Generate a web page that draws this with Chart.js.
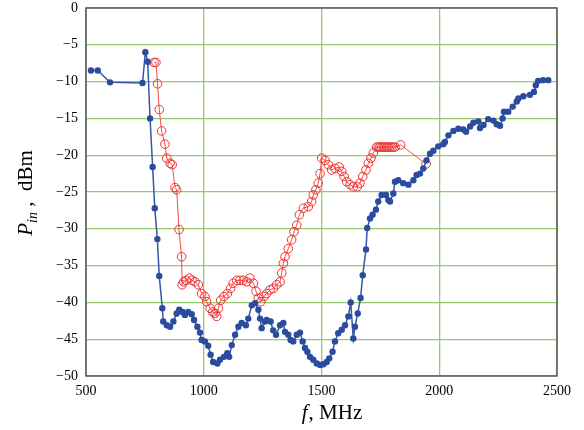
<!DOCTYPE html>
<html>
<head>
<meta charset="utf-8">
<script src="https://cdn.jsdelivr.net/npm/chart.js@4/dist/chart.umd.min.js"></script>
<style>
  html, body { margin: 0; padding: 0; background: #fff; }
  #wrap { width: 584px; height: 430px; }
</style>
</head>
<body>
<div id="wrap"><canvas id="pinChart" width="584" height="430"></canvas></div>
<script>
// ---------- data ----------

// blue trace: frequency (MHz) / input power (dBm)
const blueFreq = [521, 550, 602, 740, 752, 762, 772, 783, 792, 803, 811, 824, 828, 843, 857, 871, 885, 896, 910, 920,
    934, 949, 959, 973, 984, 991, 1005, 1019, 1029, 1040, 1058, 1069, 1086, 1100, 1108, 1119, 1133, 1147, 1161, 1179,
    1189, 1204, 1218, 1232, 1239, 1246, 1260, 1267, 1284, 1295, 1307, 1324, 1338, 1345, 1359, 1369, 1380, 1395, 1409, 1420,
    1430, 1440, 1451, 1465, 1480, 1494, 1508, 1522, 1533, 1547, 1557, 1571, 1586, 1600, 1614, 1624, 1635, 1642, 1654, 1666,
    1675, 1689, 1694, 1706, 1717, 1731, 1741, 1755, 1774, 1784, 1791, 1805, 1812, 1826, 1847, 1869, 1890, 1904, 1918, 1932,
    1946, 1961, 1975, 1996, 2017, 2024, 2039, 2060, 2081, 2102, 2114, 2131, 2145, 2166, 2173, 2188, 2208, 2230, 2244, 2258,
    2269, 2275, 2293, 2312, 2329, 2336, 2357, 2385, 2402, 2410, 2420, 2441, 2463];
const bluePower = [-8.5, -8.5, -10.1, -10.2, -6.0, -7.3, -15.0, -21.6, -27.2, -31.4, -36.4, -40.8, -42.6, -43.1, -43.3, -42.6, -41.5, -41.0, -41.3, -41.7,
    -41.3, -41.6, -42.4, -43.3, -44.1, -45.1, -45.3, -45.9, -47.1, -48.1, -48.3, -47.8, -47.4, -46.9, -47.4, -45.8, -44.4, -43.3, -42.8, -43.1,
    -42.2, -40.4, -40.1, -41.0, -42.2, -43.5, -42.6, -42.4, -42.6, -43.8, -44.4, -43.1, -42.8, -44.0, -44.4, -45.1, -45.3, -44.4, -44.1, -45.3,
    -46.2, -46.7, -47.4, -47.8, -48.3, -48.5, -48.4, -48.1, -47.6, -46.7, -45.3, -44.2, -43.7, -43.1, -41.9, -40.0, -44.9, -43.3, -41.5, -39.4,
    -36.3, -32.8, -29.9, -28.6, -28.1, -27.4, -26.3, -25.4, -25.4, -26.1, -26.3, -25.2, -23.6, -23.4, -23.8, -24.0, -23.4, -22.7, -22.5, -21.8,
    -20.7, -19.8, -19.4, -18.8, -18.5, -18.2, -17.3, -16.7, -16.4, -16.5, -16.8, -16.1, -15.6, -15.4, -16.3, -15.9, -15.1, -15.3, -15.8, -16.0,
    -15.0, -14.1, -14.1, -13.4, -12.7, -12.3, -12.0, -11.8, -11.4, -10.5, -9.9, -9.8, -9.8];

// red trace
const redFreq = [789, 797, 804, 811, 821, 835, 843, 857, 866, 878, 885, 895, 906, 908, 915, 925, 939, 950, 963, 977,
    991, 1005, 1012, 1027, 1038, 1048, 1055, 1062, 1072, 1086, 1100, 1114, 1125, 1140, 1154, 1168, 1182, 1196, 1211, 1222,
    1232, 1242, 1256, 1267, 1281, 1295, 1310, 1324, 1331, 1338, 1345, 1359, 1373, 1383, 1395, 1406, 1423, 1444, 1458, 1465,
    1476, 1486, 1494, 1501, 1515, 1529, 1543, 1557, 1575, 1586, 1596, 1607, 1621, 1635, 1652, 1663, 1675, 1689, 1699, 1710,
    1720, 1734, 1741, 1748, 1755, 1762, 1769, 1776, 1783, 1790, 1797, 1805, 1812, 1836, 1944];
const redPower = [-7.4, -7.4, -10.3, -13.8, -16.7, -18.5, -20.4, -21.1, -21.3, -24.4, -24.7, -30.1, -33.8, -37.6, -37.2, -37.0, -36.7, -37.0, -37.2, -37.6,
    -38.8, -39.2, -39.9, -40.8, -41.3, -41.5, -41.9, -40.8, -39.7, -39.2, -38.8, -38.1, -37.4, -37.0, -37.0, -37.0, -37.2, -36.7, -37.4, -38.5,
    -39.4, -39.9, -39.2, -38.8, -38.3, -38.1, -37.6, -37.2, -36.0, -34.7, -33.8, -32.7, -31.5, -30.4, -29.5, -28.1, -27.2, -27.0, -26.3, -25.4,
    -24.7, -23.8, -22.5, -20.4, -20.7, -21.3, -22.0, -21.8, -21.6, -22.2, -22.9, -23.6, -24.0, -24.3, -24.3, -23.8, -22.9, -22.0, -21.1, -20.4,
    -19.7, -18.9, -18.9, -18.9, -18.9, -18.9, -18.9, -18.9, -18.9, -18.9, -18.9, -18.9, -18.9, -18.6, -21.2];

// axis ticks
const xTicks = [500, 1000, 1500, 2000, 2500];
const yTicks = [0, -5, -10, -15, -20, -25, -30, -35, -40, -45, -50];

// ---------- helpers ----------

function toPoints(xs, ys) {
    return xs.map((x, i) => ({ x: x, y: ys[i] }));
}

const SERIF = "'Liberation Serif', 'DejaVu Serif', serif";
const GRID = "#95c96f";

// frame + axis titles (the y title has a subscript, so it is drawn by hand)
const framePlugin = {
    id: "frame",
    afterDatasetsDraw(chart) {
        const ctx = chart.ctx;
        const a = chart.chartArea;
        ctx.save();
        ctx.strokeStyle = "#5a5a5a";
        ctx.lineWidth = 1.5;
        ctx.strokeRect(a.left, a.top, a.right - a.left, a.bottom - a.top);
        ctx.restore();
    },
    afterDraw(chart) {
        const ctx = chart.ctx;
        const a = chart.chartArea;
        ctx.save();
        ctx.fillStyle = "#000";
        ctx.textBaseline = "alphabetic";

        // x title: f, MHz
        const fBig = "italic 21px " + SERIF;
        const nBig = "21px " + SERIF;
        ctx.font = fBig;
        const w1 = ctx.measureText("f").width;
        ctx.font = nBig;
        const w2 = ctx.measureText(", MHz").width;
        let x0 = (a.left + a.right) / 2 + 10 - (w1 + w2) / 2;
        ctx.font = fBig;
        ctx.fillText("f", x0, 419);
        ctx.font = nBig;
        ctx.fillText(", MHz", x0 + w1 + 1, 419);

        // y title: P_in , dBm
        ctx.translate(32, 193);
        ctx.rotate(-Math.PI / 2);
        const pFont = "italic 21px " + SERIF;
        const subFont = "italic 14px " + SERIF;
        ctx.font = pFont;
        const wp = ctx.measureText("P").width;
        ctx.font = subFont;
        const ws = ctx.measureText("in").width;
        ctx.font = nBig;
        const wr = ctx.measureText(" ,  dBm").width;
        const total = wp + ws + wr;
        let cx = -total / 2;
        ctx.font = pFont;
        ctx.fillText("P", cx, 0);
        cx += wp;
        ctx.font = subFont;
        ctx.fillText("in", cx, 5);
        cx += ws;
        ctx.font = nBig;
        ctx.fillText(" ,  dBm", cx, 0);
        ctx.restore();
    }
};

// ---------- chart ----------

new Chart(document.getElementById("pinChart"), {

    type: "scatter",

    data: {
        datasets: [
            {
                label: "red",
                data: toPoints(redFreq, redPower),
                showLine: true,
                borderColor: "#f24a4a",
                borderWidth: 1,
                pointStyle: "circle",
                pointRadius: 4.3,
                pointBorderWidth: 1,
                pointBorderColor: "#f03030",
                pointBackgroundColor: "rgba(255,255,255,0)",
                order: 2
            },
            {
                label: "blue",
                data: toPoints(blueFreq, bluePower),
                showLine: true,
                borderColor: "#3557a8",
                borderWidth: 1.5,
                pointRadius: 3.2,
                pointBorderWidth: 0,
                pointBackgroundColor: "#2a4b9e",
                order: 1
            }
        ]
    },

    options: {
        responsive: false,
        animation: false,
        layout: {
            padding: { top: 8, right: 27, left: 0, bottom: 0 }
        },
        plugins: {
            legend: { display: false },
            tooltip: { enabled: false }
        },
        scales: {
            x: {
                type: "linear",
                min: 500,
                max: 2500,
                afterBuildTicks: s => { s.ticks = xTicks.map(v => ({ value: v })); },
                afterFit: s => { s.height = 54; s.paddingLeft = 0; s.paddingRight = 0; },
                grid: { color: GRID, lineWidth: 1.3, drawTicks: false },
                border: { display: false },
                ticks: {
                    padding: 7,
                    maxRotation: 0,
                    color: "#000",
                    font: { family: SERIF, size: 14 },
                    callback: v => String(v)
                }
            },
            y: {
                type: "linear",
                min: -50,
                max: 0,
                afterBuildTicks: s => { s.ticks = yTicks.map(v => ({ value: v })); },
                afterFit: s => { s.width = 86; s.paddingTop = 0; s.paddingBottom = 0; },
                grid: { color: GRID, lineWidth: 1.3, drawTicks: false },
                border: { display: false },
                ticks: {
                    padding: 8,
                    color: "#000",
                    font: { family: SERIF, size: 14 },
                    callback: v => (v < 0 ? "\u2212" + Math.abs(v) : String(v))
                }
            }
        }
    },

    plugins: [framePlugin]

});
</script>
</body>
</html>
